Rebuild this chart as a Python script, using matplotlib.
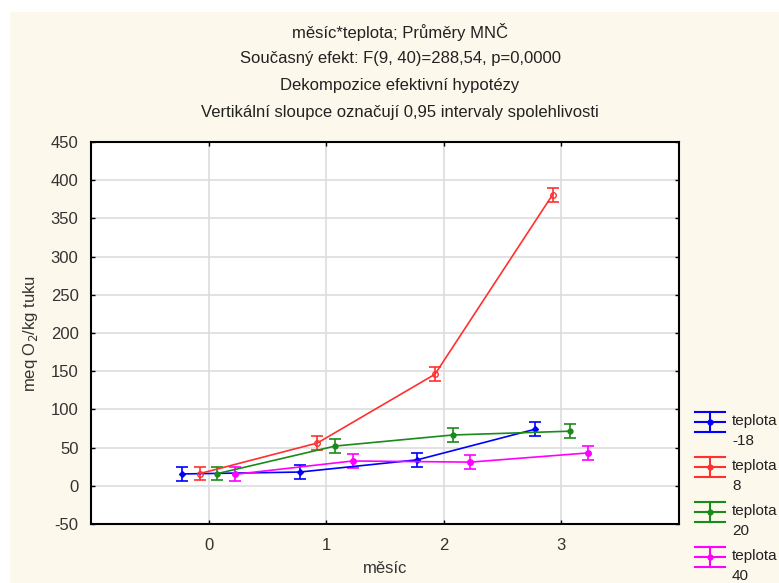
import matplotlib
matplotlib.use("Agg")
import matplotlib.pyplot as plt
from matplotlib.patches import Rectangle
from matplotlib.lines import Line2D
import numpy as np

months = [0, 1, 2, 3]
series_labels = ["teplota\n-18", "teplota\n8", "teplota\n20", "teplota\n40"]
means_m18 = [15.5, 18, 34, 74]
means_8 = [16, 56, 146, 381]
means_20 = [16, 52, 66.5, 71.5]
means_40 = [15, 32.5, 31, 43]
ci_halfwidth = [9, 9, 9, 9]
series_means = [means_m18, means_8, means_20, means_40]
colors = ["#0000ff", "#ff3030", "#1a8a1a", "#ff00ff"]
offsets = [-0.225, -0.075, 0.075, 0.225]
markers = ["D", "o", "o", "o"]
mfcs = ["#0000ff", "none", "#1a8a1a", "#ff00ff"]
msizes = [3, 4, 3.5, 4]

plt.rcParams['font.family'] = ['Liberation Sans', 'DejaVu Sans']
plt.rcParams['axes.unicode_minus'] = False
fig = plt.figure(figsize=(7.79, 5.83), dpi=100)
fig.patch.set_facecolor("white")
fig.patches.append(Rectangle((10/779, 0), 1, (583-12)/583, transform=fig.transFigure,
                             facecolor="#fdf8ec", edgecolor="none", zorder=-10))

ax = fig.add_axes([91/779, 1-524/583, (679-91)/779, (524-142)/583])
ax.set_facecolor("white")

for i in range(4):
    x = np.array(months) + offsets[i]
    ax.errorbar(x, series_means[i], yerr=ci_halfwidth, color=colors[i], lw=1.2,
                marker=markers[i], ms=msizes[i], mfc=mfcs[i], mec=colors[i],
                capsize=4.5, capthick=1.2, elinewidth=1.2, zorder=3)

ax.set_xlim(-1, 4)
ax.set_ylim(-50, 450)
ax.set_xticks(months)
ax.set_yticks(np.arange(-50, 451, 50))
ax.grid(True, color="#dddddd", lw=1.2, zorder=0)
ax.set_axisbelow(True)
ax.tick_params(direction="in", length=3, width=1, top=True, right=True,
               labelsize=12, colors="black", labelcolor="#333333")
ax.tick_params(axis="y", pad=9)
ax.tick_params(axis="x", pad=10)
for s in ax.spines.values():
    s.set_linewidth(1.5)
    s.set_color("black")

ax.set_xlabel("měsíc", fontsize=12, color="#333333", labelpad=6)
ax.set_ylabel("meq O$_2$/kg tuku", fontsize=12, color="#333333", labelpad=8)

titles = ["měsíc*teplota; Průměry MNČ",
          "Současný efekt: F(9, 40)=288,54, p=0,0000",
          "Dekompozice efektivní hypotézy",
          "Vertikální sloupce označují 0,95 intervaly spolehlivosti"]
for k, t in enumerate(titles):
    fig.text(400/779, 1-(32+26.8*k)/583, t, ha="center", va="center", fontsize=12,
             color="#222222")

# legend (manual, outside right)
fy = lambda y: 1 - y/583
fx = lambda x: x/779
for i in range(4):
    yc = 422 + 45*i
    for dy in (-10, 0, 10):
        fig.add_artist(Line2D([fx(695), fx(725)], [fy(yc+dy), fy(yc+dy)], color=colors[i],
                              lw=1.5, transform=fig.transFigure))
    fig.add_artist(Line2D([fx(710), fx(710)], [fy(yc-10), fy(yc+10)], color=colors[i], lw=1.5,
                          transform=fig.transFigure))
    fig.add_artist(Line2D([fx(710)], [fy(yc)], color=colors[i], marker="o", ms=3.5,
                          transform=fig.transFigure))
    top, bottom = series_labels[i].split("\n")
    fig.text(fx(732), fy(yc-1), top, ha="left", va="center", fontsize=11, color="#222222")
    fig.text(fx(732), fy(yc+19), bottom, ha="left", va="center", fontsize=11, color="#222222")

fig.savefig("out.png", dpi=100, facecolor=fig.get_facecolor())
